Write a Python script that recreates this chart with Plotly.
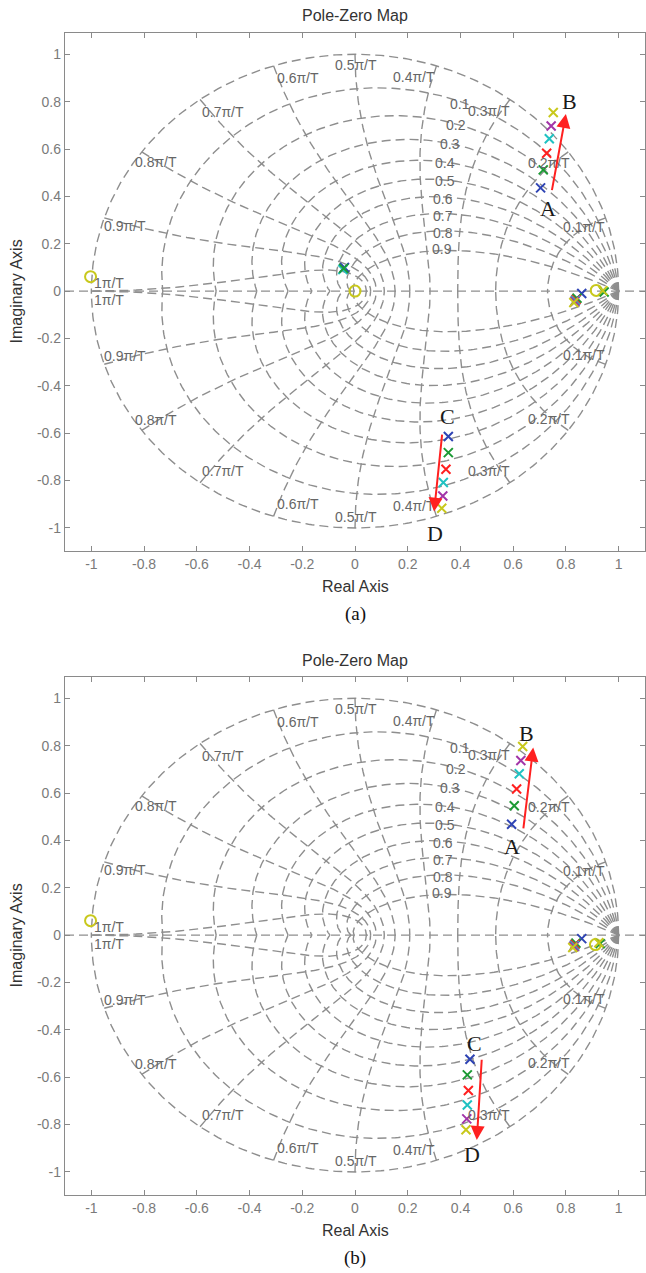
import numpy as np
import plotly.graph_objects as go

# ---------------------------------------------------------------------------
# z-plane grid: damping ratios and natural frequencies (multiples of pi/T)
zeta_grid = [0.0, 0.1, 0.2, 0.3, 0.4, 0.5, 0.6, 0.7, 0.8, 0.9]
wn_grid = [0.1, 0.2, 0.3, 0.4, 0.5, 0.6, 0.7, 0.8, 0.9, 1.0]
zeta_labels = ["0.1", "0.2", "0.3", "0.4", "0.5", "0.6", "0.7", "0.8", "0.9"]
wn_labels = ["0.1π/T", "0.2π/T", "0.3π/T", "0.4π/T", "0.5π/T",
             "0.6π/T", "0.7π/T", "0.8π/T", "0.9π/T", "1π/T"]

ticks = [-1, -0.8, -0.6, -0.4, -0.2, 0, 0.2, 0.4, 0.6, 0.8, 1]
tick_text = ["-1", "-0.8", "-0.6", "-0.4", "-0.2", "0", "0.2", "0.4", "0.6", "0.8", "1"]

# pole colours of the six systems (blue, green, red, cyan, magenta, yellow)
sys_colors = ["#2f44b4", "#1c9a34", "#ff2020", "#20c2c2", "#a235a8", "#c8c81c"]

# ---- panel (a) poles -------------------------------------------------------
a_AB_re = [0.704, 0.714, 0.727, 0.737, 0.744, 0.752]
a_AB_im = [0.436, 0.512, 0.582, 0.643, 0.697, 0.754]
a_CD_re = [0.354, 0.354, 0.345, 0.335, 0.333, 0.329]
a_CD_im = [-0.614, -0.682, -0.752, -0.808, -0.865, -0.917]
a_near1_re = [0.860, 0.842, 0.838, 0.836, 0.834, 0.830]
a_near1_im = [-0.010, -0.030, -0.036, -0.040, -0.044, -0.048]
a_extra_re = [0.945, 0.940]
a_extra_im = [-0.004, 0.002]
a_extra_col = ["#1c9a34", "#c8c81c"]
a_origin_re = [-0.040, -0.046, -0.043]
a_origin_im = [0.100, 0.091, 0.096]
a_origin_col = ["#2f44b4", "#20c2c2", "#1c9a34"]
a_zero_re = [-1.003, 0.0, 0.915]
a_zero_im = [0.061, 0.0, 0.003]
a_arrow_AB = [(0.746, 0.420), (0.800, 0.748)]
a_arrow_CD = [(0.331, -0.600), (0.300, -0.931)]

# ---- panel (b) poles -------------------------------------------------------
b_AB_re = [0.594, 0.604, 0.613, 0.623, 0.629, 0.636]
b_AB_im = [0.468, 0.546, 0.617, 0.681, 0.737, 0.796]
b_CD_re = [0.436, 0.426, 0.430, 0.426, 0.424, 0.421]
b_CD_im = [-0.524, -0.590, -0.656, -0.717, -0.776, -0.822]
b_near1_re = [0.860, 0.838, 0.834, 0.832, 0.830, 0.826]
b_near1_im = [-0.015, -0.034, -0.040, -0.044, -0.048, -0.052]
b_extra_re = [0.930, 0.925]
b_extra_im = [-0.036, -0.032]
b_extra_col = ["#1c9a34", "#c8c81c"]
b_zero_re = [-1.003, 0.912]
b_zero_im = [0.061, -0.040]
b_arrow_AB = [(0.638, 0.444), (0.676, 0.792)]
b_arrow_CD = [(0.481, -0.520), (0.462, -0.865)]

# ---------------------------------------------------------------------------
W, H = 646, 1273
GRID_COL = "#8e8e8e"
LABEL_COL = "#666666"
AXIS_COL = "#8a8a8a"
SANS = "Liberation Sans, Arial, sans-serif"
SERIF = "Liberation Serif, Times New Roman, serif"
DASH = "9px,5px"

# panel boxes in pixels (top, bottom)
panels = [(32.7, 550.7), (676.7, 1194.7)]
x_px = (65, 645)

fig = go.Figure()


def grid_traces(xa, ya):
    """Damping-ratio spirals and natural-frequency curves of the z-plane."""
    for z in zeta_grid:
        m = np.tan(np.arcsin(z))
        th = np.linspace(0, np.pi, 240)
        pts = np.exp(th * (-m + 1j))
        for p in (pts, np.conj(pts)):
            fig.add_trace(go.Scatter(x=p.real, y=p.imag, mode="lines", xaxis=xa, yaxis=ya,
                                     line=dict(color=GRID_COL, width=1.4, dash=DASH),
                                     hoverinfo="skip", showlegend=False))
    for w in wn_grid:
        phi = np.linspace(np.pi / 2, np.pi, 160)
        pts = np.exp(w * np.pi * np.exp(1j * phi))
        for p in (pts, np.conj(pts)):
            fig.add_trace(go.Scatter(x=p.real, y=p.imag, mode="lines", xaxis=xa, yaxis=ya,
                                     line=dict(color=GRID_COL, width=1.4, dash=DASH),
                                     hoverinfo="skip", showlegend=False))
    # real axis
    fig.add_trace(go.Scatter(x=[-1.1, 1.1], y=[0, 0], mode="lines", xaxis=xa, yaxis=ya,
                             line=dict(color=GRID_COL, width=1.4, dash=DASH),
                             hoverinfo="skip", showlegend=False))


def poles(xa, ya, re, im, cols):
    fig.add_trace(go.Scatter(x=re, y=im, mode="markers", xaxis=xa, yaxis=ya,
                             marker=dict(symbol="x-thin", size=9, color=cols,
                                         line=dict(width=2, color=cols)),
                             hoverinfo="skip", showlegend=False))


def zeros(xa, ya, re, im):
    fig.add_trace(go.Scatter(x=re, y=im, mode="markers", xaxis=xa, yaxis=ya,
                             marker=dict(symbol="circle-open", size=11, color="#c8c81c",
                                         line=dict(width=2, color="#c8c81c")),
                             hoverinfo="skip", showlegend=False))


# label placement for the grid text (data coordinates)
zeta_lab_pos = [(0.398, 0.789), (0.383, 0.700), (0.360, 0.620), (0.341, 0.543),
                (0.341, 0.465), (0.335, 0.391), (0.335, 0.318), (0.335, 0.246),
                (0.330, 0.178)]
wn_lab_pos = [(0.870, 0.270), (0.735, 0.540), (0.510, 0.760), (0.222, 0.906),
              (0.005, 0.955), (-0.218, 0.899), (-0.500, 0.758), (-0.755, 0.545),
              (-0.873, 0.275), (-0.934, 0.035)]

annotations = []

panel_data = [
    dict(AB=(a_AB_re, a_AB_im), CD=(a_CD_re, a_CD_im), N1=(a_near1_re, a_near1_im),
         EX=(a_extra_re, a_extra_im, a_extra_col),
         OR=(a_origin_re, a_origin_im, a_origin_col),
         Z=(a_zero_re, a_zero_im), arrows=(a_arrow_AB, a_arrow_CD), tag="(a)",
         letters=[("A", 0.733, 0.350), ("B", 0.813, 0.800),
                  ("C", 0.352, -0.530), ("D", 0.303, -1.022)]),
    dict(AB=(b_AB_re, b_AB_im), CD=(b_CD_re, b_CD_im), N1=(b_near1_re, b_near1_im),
         EX=(b_extra_re, b_extra_im, b_extra_col), OR=None,
         Z=(b_zero_re, b_zero_im), arrows=(b_arrow_AB, b_arrow_CD), tag="(b)",
         letters=[("A", 0.594, 0.374), ("B", 0.651, 0.852),
                  ("C", 0.455, -0.456), ("D", 0.443, -0.928)]),
]

for k, (pt, pb) in enumerate(panels):
    xa = "x" if k == 0 else "x2"
    ya = "y" if k == 0 else "y2"
    d = panel_data[k]
    grid_traces(xa, ya)
    zeros(xa, ya, *d["Z"])
    if d["OR"] is not None:
        poles(xa, ya, d["OR"][0], d["OR"][1], d["OR"][2])
    poles(xa, ya, d["N1"][0], d["N1"][1], sys_colors)
    poles(xa, ya, d["EX"][0], d["EX"][1], d["EX"][2])
    poles(xa, ya, d["AB"][0], d["AB"][1], sys_colors)
    poles(xa, ya, d["CD"][0], d["CD"][1], sys_colors)

    # grid labels
    for lab, (lx, ly) in zip(zeta_labels, zeta_lab_pos):
        annotations.append(dict(x=lx, y=ly, xref=xa, yref=ya, text=lab, showarrow=False,
                                font=dict(family=SANS, size=14, color=LABEL_COL)))
    for lab, (lx, ly) in zip(wn_labels, wn_lab_pos):
        ly2 = -ly if lab != "1π/T" else -0.037
        for yy in (ly, ly2):
            annotations.append(dict(x=lx, y=yy, xref=xa, yref=ya, text=lab, showarrow=False,
                                    font=dict(family=SANS, size=14, color=LABEL_COL)))

    # red trajectory arrows
    for (t0, t1) in d["arrows"]:
        annotations.append(dict(x=t1[0], y=t1[1], ax=t0[0], ay=t0[1], xref=xa, yref=ya,
                                axref=xa, ayref=ya, text="", showarrow=True,
                                arrowhead=2, arrowsize=1.4, arrowwidth=2,
                                arrowcolor="#ff2020", standoff=0, startstandoff=0))
    for (lt, lx, ly) in d["letters"]:
        annotations.append(dict(x=lx, y=ly, xref=xa, yref=ya, text=lt, showarrow=False,
                                font=dict(family=SERIF, size=22, color="#1a1a1a")))

    # titles and captions (paper coordinates)
    def py(v):
        return 1 - v / H
    xc = (x_px[0] + x_px[1]) / 2 / W
    annotations.append(dict(x=xc, y=py(pt - 16.7), xref="paper", yref="paper",
                            text="Pole-Zero Map", showarrow=False, yanchor="middle",
                            font=dict(family=SANS, size=16, color="#333333")))
    annotations.append(dict(x=xc, y=py(pb + 36), xref="paper", yref="paper",
                            text="Real Axis", showarrow=False, yanchor="middle",
                            font=dict(family=SANS, size=16, color="#333333")))
    annotations.append(dict(x=xc, y=py(pb + 63), xref="paper", yref="paper",
                            text=d["tag"], showarrow=False, yanchor="middle",
                            font=dict(family=SERIF, size=19, color="#111111")))
    annotations.append(dict(x=16.7 / W, y=py((pt + pb) / 2), xref="paper", yref="paper",
                            text="Imaginary Axis", showarrow=False, textangle=-90,
                            xanchor="center", yanchor="middle",
                            font=dict(family=SANS, size=16, color="#333333")))

axis_common = dict(showgrid=False, zeroline=False, showline=True, linecolor=AXIS_COL,
                   linewidth=1.4, mirror="allticks", ticks="inside", ticklen=5,
                   tickwidth=1.2, tickcolor=AXIS_COL, tickvals=ticks, ticktext=tick_text,
                   tickfont=dict(family=SANS, size=14, color="#7a7a7a"))

xdom = [x_px[0] / W, x_px[1] / W]
ydom = [[1 - pb / H, 1 - pt / H] for (pt, pb) in panels]

fig.update_layout(
    width=W, height=H, autosize=False,
    margin=dict(l=0, r=0, t=0, b=0),
    paper_bgcolor="white", plot_bgcolor="white",
    xaxis=dict(domain=xdom, range=[-1.1, 1.1], anchor="y", **axis_common),
    yaxis=dict(domain=ydom[0], range=[-1.096, 1.091], anchor="x", **axis_common),
    xaxis2=dict(domain=xdom, range=[-1.1, 1.1], anchor="y2", **axis_common),
    yaxis2=dict(domain=ydom[1], range=[-1.096, 1.091], anchor="x2", **axis_common),
    annotations=annotations,
    showlegend=False,
)

fig.write_html("out.html")
